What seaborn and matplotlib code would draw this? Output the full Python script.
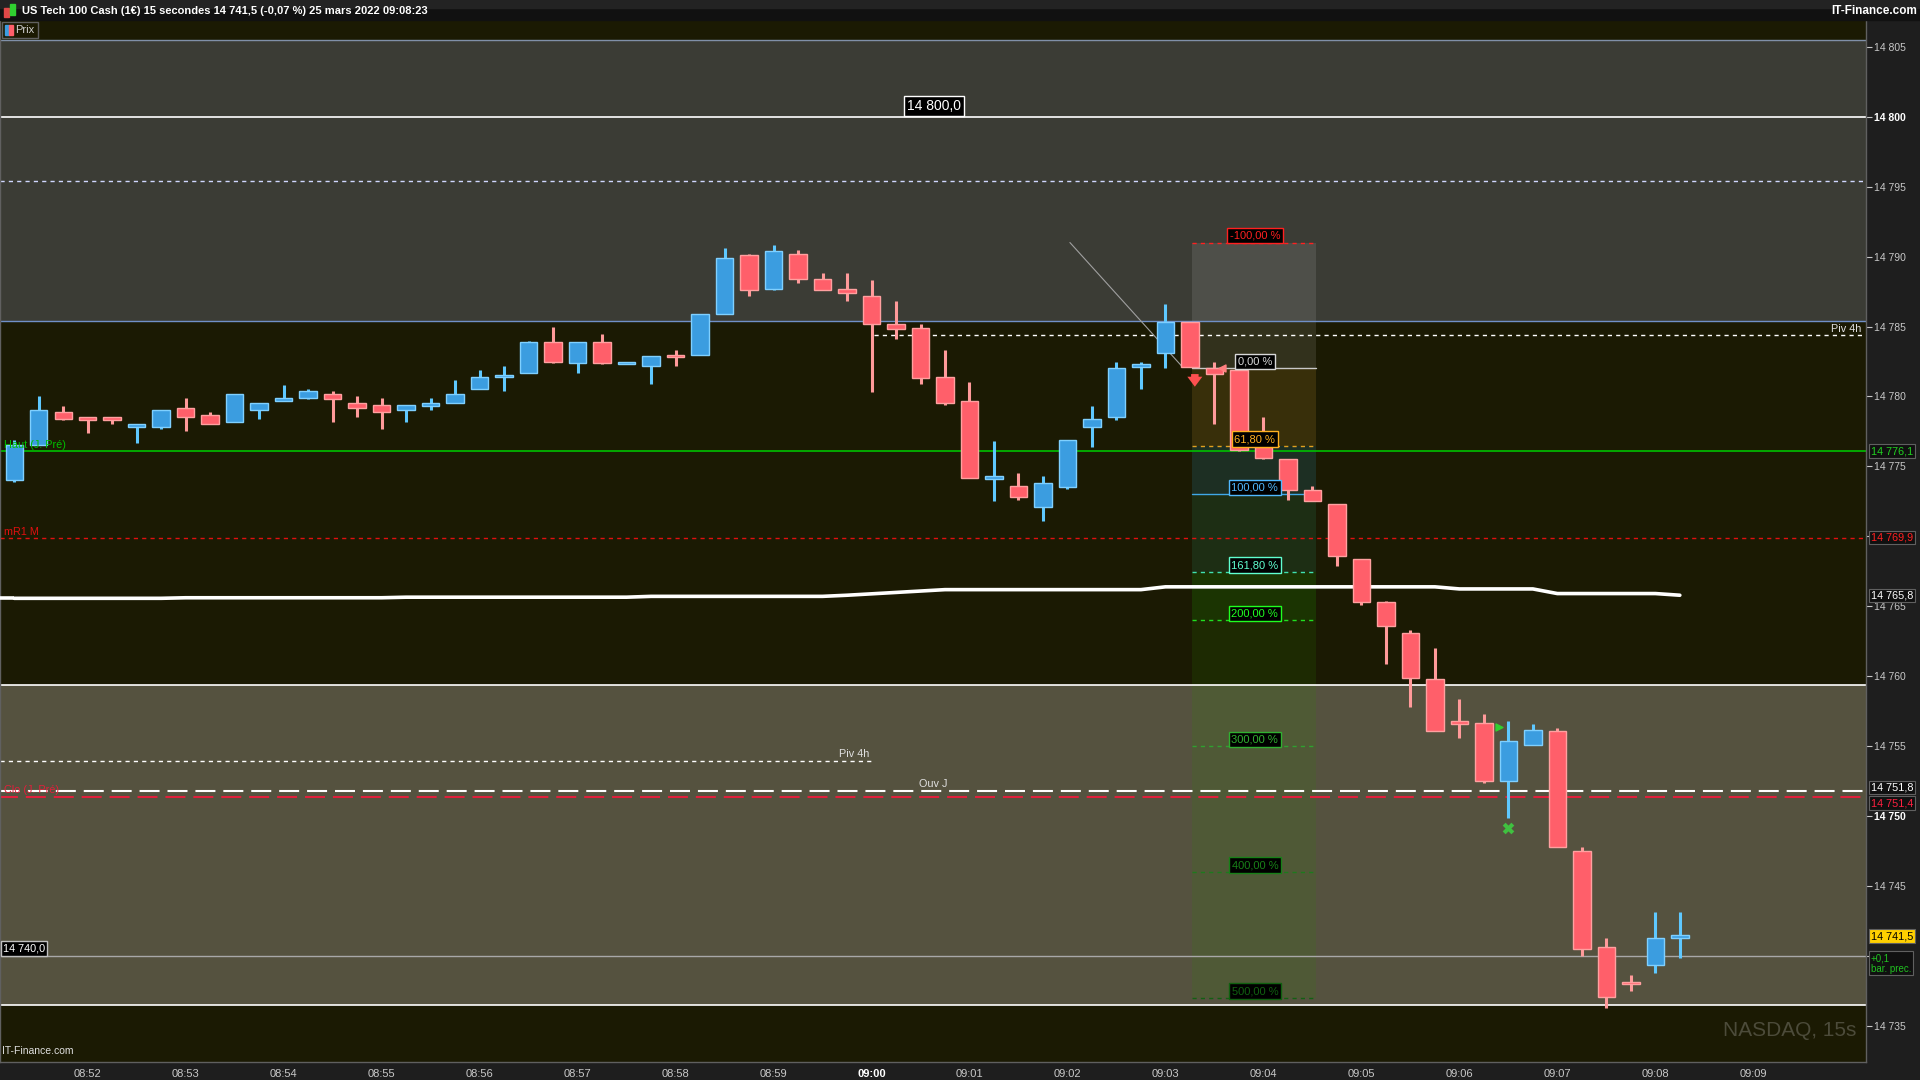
import numpy as np
import pandas as pd
import seaborn as sns
import matplotlib.pyplot as plt
from matplotlib.patches import Rectangle
from matplotlib.transforms import blended_transform_factory

# 15s candles from 08:51:15 to 09:08:15
opens = [14774.0, 14776.5, 14778.9, 14778.5, 14778.5, 14777.8, 14777.8, 14779.2, 14778.7, 14778.2,
         14779.0, 14779.7, 14779.9, 14780.2, 14779.5, 14779.4, 14779.0, 14779.3, 14779.5, 14780.5,
         14781.4, 14781.7, 14783.9, 14782.4, 14783.9, 14782.3, 14782.2, 14783.0, 14783.0, 14785.9,
         14790.1, 14787.7, 14790.2, 14788.4, 14787.7, 14787.2, 14785.2, 14784.9, 14781.4, 14779.7,
         14774.1, 14773.6, 14772.1, 14773.5, 14777.8, 14778.5, 14782.1, 14783.1, 14785.3, 14782.0,
         14781.9, 14776.4, 14775.5, 14773.3, 14772.3, 14768.4, 14765.3, 14763.1, 14759.8, 14756.8,
         14756.7, 14752.5, 14755.1, 14756.1, 14747.5, 14740.7, 14738.2, 14739.4, 14741.3]
highs = [14776.9, 14780.0, 14779.3, 14778.5, 14778.5, 14778.0, 14779.0, 14779.9, 14778.9, 14780.2,
         14779.5, 14780.8, 14780.5, 14780.4, 14780.0, 14779.9, 14779.4, 14779.9, 14781.2, 14781.9,
         14782.2, 14784.0, 14785.0, 14783.9, 14784.5, 14782.4, 14782.9, 14783.3, 14785.9, 14790.6,
         14790.2, 14790.8, 14790.5, 14788.8, 14788.8, 14788.3, 14786.8, 14785.2, 14783.3, 14781.0,
         14776.8, 14774.5, 14774.3, 14776.9, 14779.3, 14782.5, 14782.5, 14786.6, 14785.3, 14782.5,
         14781.9, 14778.5, 14775.5, 14773.6, 14772.3, 14768.4, 14765.4, 14763.3, 14762.0, 14758.4,
         14757.3, 14756.8, 14756.6, 14756.3, 14747.8, 14741.3, 14738.7, 14743.2, 14743.2]
lows = [14773.9, 14776.5, 14778.3, 14777.4, 14778.0, 14776.7, 14777.7, 14777.5, 14778.0, 14778.2,
        14778.4, 14779.7, 14779.8, 14778.2, 14778.5, 14777.7, 14778.2, 14779.0, 14779.5, 14780.5,
        14780.4, 14781.7, 14782.4, 14781.7, 14782.3, 14782.3, 14780.9, 14782.2, 14783.0, 14785.9,
        14787.2, 14787.6, 14788.1, 14787.6, 14786.8, 14780.3, 14784.1, 14780.9, 14779.4, 14774.2,
        14772.5, 14772.6, 14771.1, 14773.4, 14776.4, 14778.3, 14780.5, 14782.0, 14782.1, 14778.0,
        14776.1, 14775.5, 14772.6, 14772.5, 14767.9, 14765.1, 14760.9, 14757.8, 14756.1, 14755.6,
        14752.4, 14749.9, 14755.1, 14747.8, 14740.0, 14736.3, 14737.5, 14738.8, 14739.9]
closes = [14776.5, 14779.0, 14778.4, 14778.3, 14778.3, 14778.0, 14779.0, 14778.5, 14778.0, 14780.2,
          14779.5, 14779.9, 14780.4, 14779.8, 14779.2, 14778.9, 14779.4, 14779.5, 14780.2, 14781.4,
          14781.5, 14783.9, 14782.5, 14783.9, 14782.4, 14782.4, 14782.9, 14782.8, 14785.9, 14789.9,
          14787.6, 14790.4, 14788.4, 14787.6, 14787.4, 14785.2, 14784.8, 14781.3, 14779.5, 14774.2,
          14774.3, 14772.8, 14773.8, 14776.9, 14778.4, 14782.0, 14782.3, 14785.3, 14782.1, 14781.6,
          14776.2, 14775.6, 14773.3, 14772.5, 14768.6, 14765.3, 14763.6, 14759.9, 14756.1, 14756.6,
          14752.5, 14755.4, 14756.2, 14747.8, 14740.5, 14737.1, 14738.0, 14741.3, 14741.5]
vwap = [14765.58, 14765.58, 14765.58, 14765.58, 14765.58, 14765.58, 14765.58, 14765.62, 14765.62, 14765.62,
        14765.62, 14765.62, 14765.62, 14765.62, 14765.62, 14765.62, 14765.66, 14765.66, 14765.66, 14765.66,
        14765.66, 14765.66, 14765.66, 14765.66, 14765.66, 14765.66, 14765.72, 14765.72, 14765.72, 14765.72,
        14765.72, 14765.72, 14765.72, 14765.72, 14765.80, 14765.90, 14766.00, 14766.10, 14766.20, 14766.20,
        14766.20, 14766.20, 14766.20, 14766.20, 14766.20, 14766.20, 14766.20, 14766.40, 14766.40, 14766.40,
        14766.40, 14766.40, 14766.40, 14766.40, 14766.40, 14766.40, 14766.40, 14766.40, 14766.40, 14766.25,
        14766.25, 14766.25, 14766.25, 14765.92, 14765.92, 14765.92, 14765.92, 14765.92, 14765.80]

times = ["08:52", "08:53", "08:54", "08:55", "08:56", "08:57", "08:58", "08:59", "09:00",
         "09:01", "09:02", "09:03", "09:04", "09:05", "09:06", "09:07", "09:08", "09:09"]
time_pos = [3, 7, 11, 15, 19, 23, 27, 31, 35, 39, 43, 47, 51, 55, 59, 63, 67, 71]
y_ticks = [14735, 14740, 14745, 14750, 14755, 14760, 14765, 14770, 14775, 14780, 14785, 14790, 14795, 14800, 14805]
hidden_ticks = [14740, 14770]  # covered by price tags in the original

fib_pcts = [-100, 0, 61.8, 100, 161.8, 200, 300, 400, 500]
fib_names = ["-100,00 %", "0,00 %", "61,80 %", "100,00 %", "161,80 %", "200,00 %", "300,00 %", "400,00 %", "500,00 %"]
fib_p0, fib_p100 = 14782.0, 14773.0
fib_x = (48.1, 53.15)

df = pd.DataFrame({"o": opens, "h": highs, "l": lows, "c": closes, "vwap": vwap})
df["i"] = np.arange(len(df))
df["up"] = df["c"] >= df["o"]

sns.set_theme(style="dark", rc={"axes.facecolor": "#1b1a03", "figure.facecolor": "#1e1e1e"})
plt.rcParams['font.family'] = ['Liberation Sans', 'DejaVu Sans']

fig = plt.figure(figsize=(19.2, 10.8), dpi=100)
ax = fig.add_axes([0, 18 / 1080, 1866 / 1920, 1042 / 1080])
ax.set_facecolor("#1b1a03")
xmin, xmax = -0.58, 75.6
ax.set_xlim(xmin, xmax)
ax.set_ylim(14732.45, 14806.9)

# zones
ax.axhspan(14785.4, 14805.45, color="#3b3c35", zorder=0, lw=0)
ax.axhspan(14736.5, 14759.4, color="#55523f", zorder=0, lw=0)

# fibonacci box
fib_prices = [fib_p0 + (fib_p100 - fib_p0) * p / 100 for p in fib_pcts]
fills = [("#ffffff", 0.10), ("#ffc040", 0.13), ("#30c0ff", 0.13), ("#30c090", 0.12),
         ("#20c000", 0.16), ("#2e8b00", 0.15), ("#2e8b00", 0.13), ("#2e8b00", 0.13)]
for k, (col, a) in enumerate(fills):
    ax.fill_between(fib_x, fib_prices[k + 1], fib_prices[k], color=col, alpha=a, lw=0, zorder=1)
fib_cols = ["#ff2020", "#c8c8c8", "#e0a020", "#40a8e8", "#40e0b0", "#20e020", "#30a030", "#1d7a1d", "#126012"]
fib_txt = ["#ff2020", "#d8d8d8", "#ffb020", "#50b8ff", "#60ffd0", "#20ff20", "#30b030", "#188018", "#106010"]
for k, p in enumerate(fib_prices):
    ls = "-" if fib_pcts[k] in (0, 100) else (0, (3, 3))
    ax.plot(fib_x, [p, p], color=fib_cols[k], lw=1, ls=ls, zorder=2)
    ax.text(50.65, p + 0.15, fib_names[k], color=fib_txt[k], fontsize=8, ha="center", va="bottom",
            zorder=6, bbox=dict(boxstyle="square,pad=0.25", fc="black", ec=fib_txt[k], lw=1))

# horizontal levels
ax.axhline(14805.45, color="#8090a8", lw=1, zorder=2)
ax.axhline(14800.0, color="white", lw=1.2, zorder=2)
ax.axhline(14795.4, color="#d0d8ff", lw=1, ls=(0, (3, 3)), zorder=2)
ax.axhline(14785.4, color="#7090c8", lw=1, zorder=2)
ax.plot([35.1, xmax], [14784.4, 14784.4], color="white", lw=1, ls=(0, (3, 3)), zorder=2)
ax.axhline(14776.1, color="#00c000", lw=1.2, zorder=2)
ax.axhline(14769.9, color="#e01010", lw=1, ls=(0, (3, 3)), zorder=2)
ax.axhline(14759.4, color="white", lw=1.2, zorder=2)
ax.plot([xmin, 35.1], [14753.95, 14753.95], color="white", lw=1, ls=(0, (3, 3)), zorder=2)
ax.axhline(14751.8, color="white", lw=1.5, ls=(0, (9.6, 3.8)), zorder=2)
ax.axhline(14751.4, color="#e0203c", lw=1.5, ls=(1, (9.6, 3.8)), zorder=2)
ax.axhline(14740.0, color="#a8a8a8", lw=1, zorder=2)
ax.axhline(14736.5, color="white", lw=1.2, zorder=2)

# trend line
ax.plot([43.1, 47.7], [14791.0, 14782.1], color="#a0a0a0", lw=0.8, zorder=3)

# VWAP (started before the visible window)
sns.lineplot(data=df, x="i", y="vwap", ax=ax, color="white", lw=2.6, zorder=3, legend=False)
ax.plot([xmin, 0], [vwap[0], vwap[0]], color="white", lw=2.6, zorder=3, solid_capstyle="butt")

# candles
wick_col = np.where(df["up"], "#5ec8ff", "#ff9a9a")
ax.vlines(df["i"], df["l"], df["h"], colors=wick_col, lw=2.2, zorder=4)
body_lo = np.minimum(df["o"], df["c"])
body_h = np.maximum(np.abs(df["c"] - df["o"]), 0.15)
ax.bar(df["i"], body_h, bottom=body_lo, width=0.71,
       color=np.where(df["up"], "#3b9de0", "#ff5f6a"),
       edgecolor=np.where(df["up"], "#7fd0ff", "#ffa0a0"), lw=1, zorder=5)

# markers
ax.annotate("", xy=(48.2, 14780.5), xytext=(48.2, 14781.8),
            arrowprops=dict(arrowstyle="simple,head_width=0.9,head_length=0.6,tail_width=0.45",
                            color="#ff5050", lw=0), zorder=6)
ax.scatter([49.3], [14782.0], marker="<", s=25, color="#ff8080", zorder=6)
ax.scatter([60.6], [14756.4], marker=">", s=25, color="#30d030", zorder=6)
ax.scatter([61.0], [14749.2], marker="X", s=70, color="#40c040", zorder=6, lw=0)

# in-plot labels
ax.text(-0.4, 14776.5, "Haut (J. Pré)", color="#00c000", fontsize=7.8, va="center", zorder=6)
ax.text(-0.4, 14770.35, "mR1 M", color="#e01010", fontsize=7.8, va="center", zorder=6)
ax.text(-0.4, 14751.85, "Clo (J. Pré)", color="#e0203c", fontsize=7.8, va="center", zorder=6)
ax.text(75.4, 14784.85, "Piv 4h", color="#e0e0e0", fontsize=7.8, va="center", ha="right", zorder=6)
ax.text(34.9, 14754.45, "Piv 4h", color="#e0e0e0", fontsize=7.8, va="center", ha="right", zorder=6)
ax.text(37.5, 14752.3, "Ouv J", color="#e0e0e0", fontsize=7.8, va="center", ha="center", zorder=6)
ax.text(37.55, 14800.25, "14 800,0", color="white", fontsize=10, va="bottom", ha="center", zorder=6,
        bbox=dict(boxstyle="square,pad=0.2", fc="black", ec="white", lw=1))
ax.text(-0.45, 14740.55, "14 740,0", color="white", fontsize=7.8, va="center", ha="left", zorder=6,
        bbox=dict(boxstyle="square,pad=0.2", fc="black", ec="#c0c0c0", lw=1))
ax.text(75.2, 14734.0, "NASDAQ, 15s", color="#4c4b3a", fontsize=15, ha="right", va="bottom", zorder=6)
ax.text(-0.5, 14732.9, "IT-Finance.com", color="#e0e0e0", fontsize=7.5, ha="left", va="bottom", zorder=6)

# axes styling
ax.yaxis.tick_right()
ax.set_yticks(y_ticks)
ax.set_yticklabels(["" if v in hidden_ticks else f"{v:,}".replace(",", " ") for v in y_ticks])
ax.set_xticks(time_pos)
ax.set_xticklabels(times)
ax.tick_params(axis="y", colors="#c8c8c8", labelsize=7.5, length=4, width=0.8, pad=2, direction="out")
ax.tick_params(axis="x", colors="#c8c8c8", labelsize=8, length=3, width=0.8, pad=2, direction="out")
for lbl in ax.get_yticklabels():
    if lbl.get_text() in ("14 800", "14 750"):
        lbl.set_fontweight("bold")
        lbl.set_color("white")
for lbl in ax.get_xticklabels():
    if lbl.get_text() == "09:00":
        lbl.set_fontweight("bold")
        lbl.set_color("white")
ax.set_xlabel("")
ax.set_ylabel("")
ax.grid(False)
for s in ["left", "right", "bottom"]:
    ax.spines[s].set_visible(True)
    ax.spines[s].set_color("#606060")
    ax.spines[s].set_linewidth(1)
ax.spines["top"].set_visible(False)

# price tags on the right axis
tr = blended_transform_factory(fig.transFigure, ax.transData)
tags = [(14776.1, "14 776,1", "#20d020", "#101010"), (14769.9, "14 769,9", "#ff2020", "#101010"),
        (14765.8, "14 765,8", "white", "#101010"), (14752.05, "14 751,8", "white", "#101010"),
        (14750.95, "14 751,4", "#ff2040", "#101010"), (14741.45, "14 741,5", "black", "#ffd000")]
for p, t, fc, bg in tags:
    ax.text(1871 / 1920, p, t, transform=tr, color=fc, fontsize=7.8, va="center", ha="left", zorder=7,
            clip_on=False, bbox=dict(boxstyle="square,pad=0.15", fc=bg, ec="#606060", lw=0.8))
ax.text(1871 / 1920, 14739.5, "+0,1\nbar. prec.", transform=tr, color="#20c020", fontsize=7,
        va="center", ha="left", zorder=7, clip_on=False, linespacing=1.05,
        bbox=dict(boxstyle="square,pad=0.2", fc="#101010", ec="#606060", lw=0.8))

# header bar
fig.add_artist(Rectangle((0, 1 - 20 / 1080), 1, 20 / 1080, transform=fig.transFigure,
                         color="#111111", zorder=1))
fig.add_artist(Rectangle((0, 1 - 8 / 1080), 1, 8 / 1080, transform=fig.transFigure,
                         color="#232323", zorder=1))
fig.add_artist(Rectangle((4 / 1920, 1 - 17 / 1080), 5 / 1920, 9 / 1080, transform=fig.transFigure,
                         color="#e04848", zorder=2))
fig.add_artist(Rectangle((10 / 1920, 1 - 15 / 1080), 5 / 1920, 11 / 1080, transform=fig.transFigure,
                         color="#30d030", zorder=2))
fig.text(22 / 1920, 1 - 11 / 1080,
         "US Tech 100 Cash (1€) 15 secondes 14 741,5 (-0,07 %) 25 mars 2022 09:08:23",
         color="white", fontsize=8, fontweight="bold", va="center", ha="left")
fig.text(1917 / 1920, 1 - 11 / 1080, "IT-Finance.com", color="white", fontsize=8.5,
         fontweight="bold", va="center", ha="right")

# "Prix" legend box
fig.add_artist(Rectangle((2 / 1920, 1 - 38 / 1080), 36 / 1920, 16 / 1080, transform=fig.transFigure,
                         fc="#1b1a03", ec="#606060", lw=1, zorder=3))
fig.add_artist(Rectangle((5 / 1920, 1 - 35 / 1080), 4 / 1920, 10 / 1080, transform=fig.transFigure,
                         color="#3b9de0", zorder=4))
fig.add_artist(Rectangle((9 / 1920, 1 - 35 / 1080), 4 / 1920, 10 / 1080, transform=fig.transFigure,
                         color="#ff5f6a", zorder=4))
fig.text(15 / 1920, 1 - 30 / 1080, "Prix", color="#d0d0d0", fontsize=8, va="center", ha="left", zorder=5)

fig.savefig("out.png", dpi=100)
